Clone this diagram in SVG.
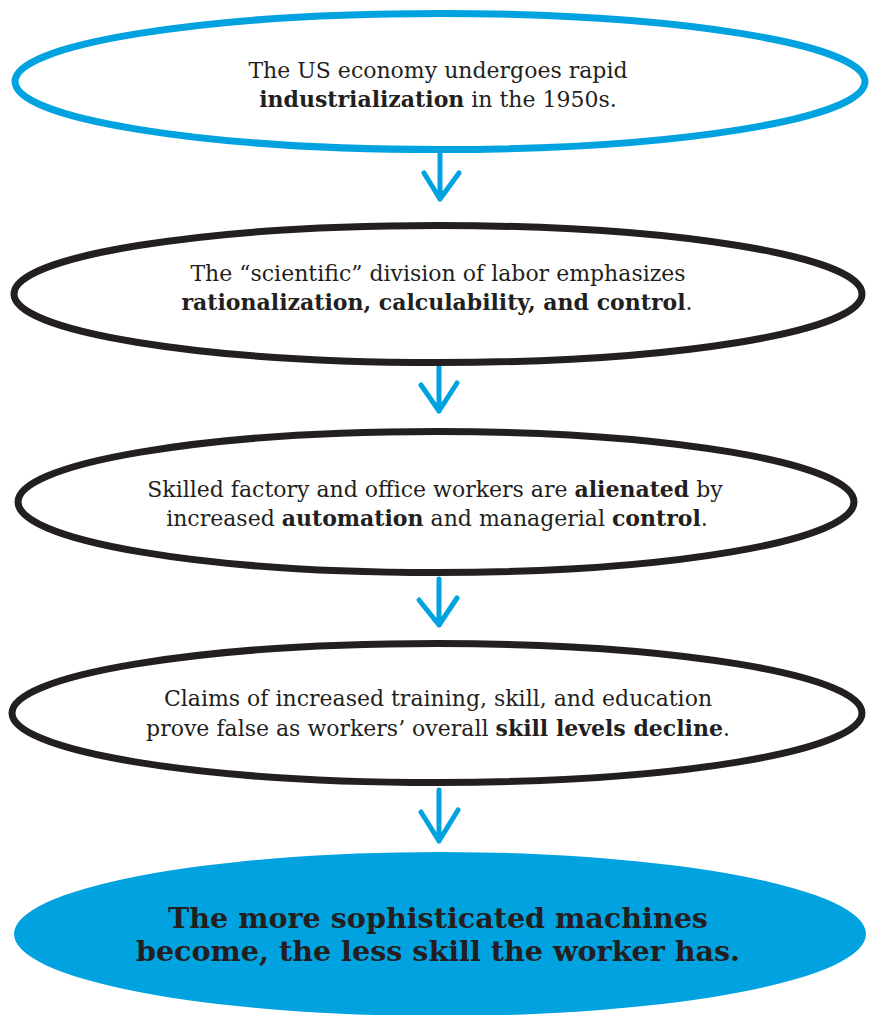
<svg xmlns="http://www.w3.org/2000/svg" width="871" height="1015" viewBox="0 0 871 1015">
<style>
.node ellipse{fill:#fff;stroke-width:7}
.blue{stroke:#00a3e0}
.black{stroke:#231f20}
.t{font-family:"DejaVu Serif","Liberation Serif",serif;font-size:22px;fill:#231f20;text-anchor:middle;font-weight:300}
.t .b{font-weight:bold}
.big{font-family:"DejaVu Serif","Liberation Serif",serif;font-size:28.6px;font-weight:bold;fill:#231f20;text-anchor:middle}
.arrow{fill:none;stroke:#00a3e0;stroke-width:5;stroke-linecap:round;stroke-linejoin:round}
</style>
<rect width="871" height="1015" fill="#fff"/>
<g id="connectors">
<path class="arrow" d="M440 154 V199 M424 173 L440 199 L459 173"/>
<path class="arrow" d="M439 367 V411 M421 385 L439 411 L457 383"/>
<path class="arrow" d="M439 579 V625 M419 600 L439 625 L457 598"/>
<path class="arrow" d="M439 790 V841 M421 812 L439 841 L458 810"/>
</g>
<g id="node1" class="node">
<ellipse class="blue" cx="440" cy="81.5" rx="425" ry="68"/>
<text class="t" x="438" y="78">The US economy undergoes rapid</text>
<text class="t" x="438" y="107"><tspan class="b">industrialization</tspan> in the 1950s.</text>
</g>
<g id="node2" class="node">
<ellipse class="black" cx="438" cy="294" rx="424" ry="68.5"/>
<text class="t" x="438" y="281">The “scientific” division of labor emphasizes</text>
<text class="t" x="437" y="310"><tspan class="b">rationalization, calculability, and control</tspan>.</text>
</g>
<g id="node3" class="node">
<ellipse class="black" cx="436" cy="502" rx="418" ry="70.5"/>
<text class="t" x="435" y="497">Skilled factory and office workers are <tspan class="b">alienated</tspan> by</text>
<text class="t" x="437" y="526">increased <tspan class="b">automation</tspan> and managerial <tspan class="b">control</tspan>.</text>
</g>
<g id="node4" class="node">
<ellipse class="black" cx="437" cy="713" rx="425" ry="69.5"/>
<text class="t" x="438" y="706">Claims of increased training, skill, and education</text>
<text class="t" x="438" y="736">prove false as workers’ overall <tspan class="b">skill levels decline</tspan>.</text>
</g>
<g id="node5">
<ellipse cx="440" cy="934" rx="426" ry="82" fill="#00a3e0"/>
<text class="big" x="438" y="928">The more sophisticated machines</text>
<text class="big" x="438" y="961">become, the less skill the worker has.</text>
</g>
</svg>
